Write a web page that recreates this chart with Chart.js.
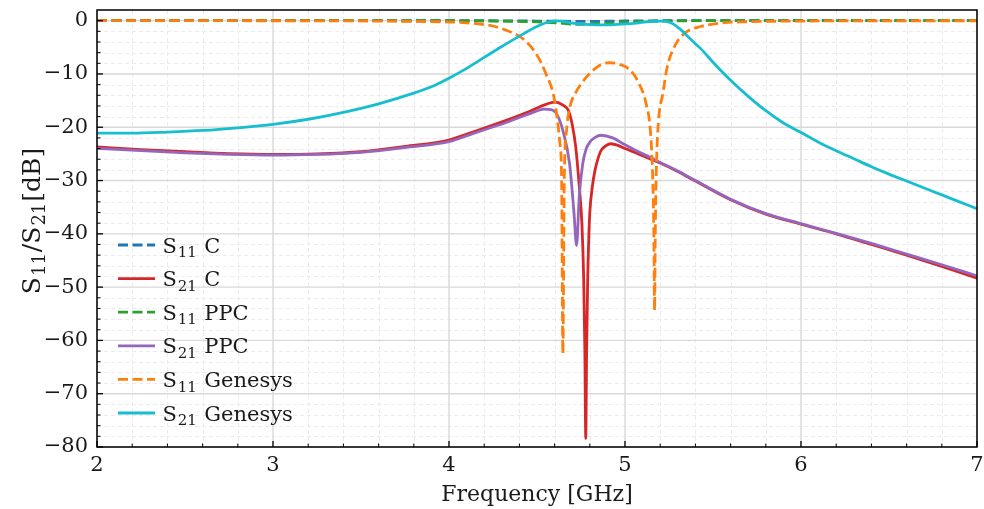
<!DOCTYPE html>
<html>
<head>
<meta charset="utf-8">
<script src="https://cdn.jsdelivr.net/npm/chart.js@4.4.1/dist/chart.umd.min.js"></script>
<style>
  html, body { margin: 0; padding: 0; background: #fff; }
</style>
</head>
<body>
<canvas id="sparamChart" width="984" height="509"></canvas>
<script>
// Donnees (frequence en GHz, niveau en dB)
const s11cFreq = [2.0, 4.0, 4.4, 4.6, 4.75, 4.9, 5.05, 5.3, 7.0];
const s11cDb   = [0, 0, -0.05, -0.1, -0.15, -0.1, -0.05, 0, 0];

const s21cFreq = [2.0, 2.25, 2.5, 2.75, 3.0, 3.25, 3.5, 3.75, 4.0, 4.135, 4.325, 4.46, 4.55, 4.60, 4.64,
                  4.68, 4.70, 4.72, 4.74, 4.755, 4.765, 4.772, 4.777, 4.782, 4.788, 4.795, 4.80, 4.815,
                  4.83, 4.85, 4.865, 4.89, 4.92, 4.96, 5.0, 5.07, 5.14, 5.2, 5.3, 5.4, 5.6, 5.8, 6.0, 6.2,
                  6.4, 6.6, 6.8, 7.0];
const s21cDb   = [-23.7, -24.2, -24.6, -24.95, -25.1, -25.0, -24.6, -23.6, -22.4, -20.9, -18.7, -17.0, -15.7, -15.3, -15.7,
                  -17.0, -19.5, -23.7, -31, -38, -48, -62, -78.4, -62, -48.7, -40, -36, -31,
                  -28, -25.5, -24.3, -23.5, -23.1, -23.4, -24.0, -24.9, -25.9, -26.7, -28.3, -30.1, -33.6, -36.3, -38.2, -40.0,
                  -42.0, -44.0, -46.1, -48.3];

const s11ppcFreq = [2.0, 4.0, 4.3, 4.53, 4.65, 4.73, 4.8, 4.89, 5.0, 5.1, 5.25, 5.45, 7.0];
const s11ppcDb   = [0, -0.02, -0.08, -0.26, -0.5, -0.7, -0.6, -0.45, -0.3, -0.15, -0.06, 0, 0];

const s21ppcFreq = [2.0, 2.25, 2.5, 2.75, 3.0, 3.25, 3.5, 3.75, 4.0, 4.135, 4.325, 4.46, 4.54, 4.58, 4.61,
                    4.647, 4.685, 4.71, 4.725, 4.74, 4.76, 4.78, 4.80, 4.83, 4.865, 4.93, 5.0, 5.07, 5.14,
                    5.2, 5.3, 5.4, 5.6, 5.8, 6.0, 6.2, 6.4, 6.6, 6.8, 7.0];
const s21ppcDb   = [-23.95, -24.4, -24.8, -25.1, -25.25, -25.1, -24.7, -23.8, -22.7, -21.2, -19.1, -17.45, -16.6, -16.7, -17.4,
                    -20.6, -26.8, -36, -42.2, -33, -26.8, -24.0, -22.8, -21.9, -21.5, -22.0, -23.3, -24.5, -25.6,
                    -26.6, -28.2, -30.0, -33.5, -36.2, -38.1, -39.9, -41.8, -43.8, -45.8, -47.9];

const s11genFreq = [2.0, 3.0, 3.6, 4.0, 4.1, 4.2, 4.25, 4.325, 4.42, 4.495, 4.55, 4.6, 4.63, 4.64, 4.647,
                    4.655, 4.668, 4.687, 4.72, 4.75, 4.8, 4.855, 4.91, 4.97, 5.03, 5.08, 5.12, 5.145, 5.158,
                    5.164, 5.168, 5.172, 5.178, 5.19, 5.215, 5.24, 5.29, 5.35, 5.43, 5.54, 5.7, 6.0, 6.5, 7.0];
const s11genDb   = [0, -0.02, -0.08, -0.25, -0.4, -0.75, -1.0, -1.8, -3.4, -6.2, -9.9, -15, -23, -30, -62.5,
                    -30, -20.6, -16.2, -13.5, -11.9, -9.9, -8.4, -7.9, -8.2, -9.3, -11.8, -15.6, -21, -30,
                    -40, -54.4, -40, -28, -19, -13.7, -8.7, -4.3, -2.1, -1.1, -0.45, -0.2, -0.08, -0.03, -0.02];

const s21genFreq = [2.0, 2.2, 2.4, 2.6, 2.8, 3.0, 3.2, 3.4, 3.6, 3.8, 3.9, 4.0, 4.1, 4.2, 4.3, 4.4, 4.5,
                    4.56, 4.62, 4.69, 4.8, 4.89, 4.98, 5.08, 5.15, 5.21, 5.26, 5.31, 5.37, 5.43, 5.5, 5.6,
                    5.7, 5.8, 5.9, 6.0, 6.1, 6.2, 6.3, 6.4, 6.5, 6.6, 6.7, 6.8, 6.9, 7.0];
const s21genDb   = [-21.1, -21.1, -20.9, -20.6, -20.1, -19.45, -18.5, -17.2, -15.6, -13.6, -12.4, -10.8, -8.95, -6.9, -4.85, -2.9, -1.1,
                    -0.3, -0.05, -0.4, -0.75, -0.8, -0.65, -0.4, -0.15, -0.1, -0.4, -1.5, -3.4, -5.25, -7.8, -11.2,
                    -14.2, -16.9, -19.2, -21.0, -22.8, -24.4, -25.9, -27.4, -28.8, -30.1, -31.4, -32.7, -34.0, -35.3];

const seriesLabels = ['S11 C', 'S21 C', 'S11 PPC', 'S21 PPC', 'S11 Genesys', 'S21 Genesys'];
const xTickValues = [2, 3, 4, 5, 6, 7];
const yTickValues = [-80, -70, -60, -50, -40, -30, -20, -10, 0];
const xTitle = 'Frequency [GHz]';
const yTitle = 'S11/S21[dB]';

const X_MIN = 2, X_MAX = 7, Y_MIN = -80, Y_MAX = 2;

function toPoints(freq, db) {
    return freq.map((f, i) => ({ x: f, y: db[i] }));
}

// Ecrit "S11 ..." avec les chiffres en indice
function drawSubText(ctx, text, x, y, size, align) {
    const parts = [];
    const re = /S(\d+)/g;
    let last = 0, m;
    while ((m = re.exec(text)) !== null) {
        if (m.index > last) parts.push({ t: text.slice(last, m.index), sub: false });
        parts.push({ t: 'S', sub: false });
        parts.push({ t: m[1], sub: true });
        last = m.index + m[0].length;
    }
    if (last < text.length) parts.push({ t: text.slice(last), sub: false });

    const mainFont = size + 'px "DejaVu Serif"';
    const subFont = Math.round(size * 0.7) + 'px "DejaVu Serif"';
    let total = 0;
    parts.forEach(p => {
        ctx.font = p.sub ? subFont : mainFont;
        p.w = ctx.measureText(p.t).width + (p.sub ? size * 0.08 : 0);
        total += p.w;
    });
    let cx = align === 'center' ? x - total / 2 : x;
    ctx.textAlign = 'left';
    ctx.textBaseline = 'alphabetic';
    parts.forEach(p => {
        ctx.font = p.sub ? subFont : mainFont;
        ctx.fillText(p.t, cx + (p.sub ? size * 0.04 : 0), p.sub ? y + size * 0.22 : y);
        cx += p.w;
    });
}

const frameGrid = {
    id: 'frameGrid',
    beforeDatasetsDraw(chart) {
        const { ctx, chartArea: a, scales: { x, y } } = chart;
        ctx.save();
        // grille mineure pointillee
        ctx.setLineDash([4, 3]);
        ctx.strokeStyle = '#ebebeb';
        ctx.lineWidth = 1;
        for (let i = 0; i <= 25; i++) {
            if (i % 5 === 0) continue;
            const px = Math.round(x.getPixelForValue(X_MIN + i * 0.2)) + 0.5;
            ctx.beginPath(); ctx.moveTo(px, a.top); ctx.lineTo(px, a.bottom); ctx.stroke();
        }
        for (let i = 0; i <= 40; i++) {
            if (i % 5 === 0) continue;
            const py = Math.round(y.getPixelForValue(Y_MIN + i * 2)) + 0.5;
            ctx.beginPath(); ctx.moveTo(a.left, py); ctx.lineTo(a.right, py); ctx.stroke();
        }
        // grille majeure
        ctx.setLineDash([]);
        ctx.strokeStyle = '#d9d9d9';
        ctx.lineWidth = 1.4;
        xTickValues.forEach(v => {
            const px = x.getPixelForValue(v);
            ctx.beginPath(); ctx.moveTo(px, a.top); ctx.lineTo(px, a.bottom); ctx.stroke();
        });
        yTickValues.forEach(v => {
            const py = y.getPixelForValue(v);
            ctx.beginPath(); ctx.moveTo(a.left, py); ctx.lineTo(a.right, py); ctx.stroke();
        });
        ctx.restore();
    },
    afterDatasetsDraw(chart) {
        const { ctx, chartArea: a, scales: { x, y } } = chart;
        ctx.save();
        // graduations vers l'interieur
        ctx.strokeStyle = '#000';
        for (let i = 0; i <= 25; i++) {
            const major = i % 5 === 0;
            const px = x.getPixelForValue(X_MIN + i * 0.2);
            ctx.lineWidth = major ? 1.3 : 1;
            ctx.beginPath(); ctx.moveTo(px, a.bottom); ctx.lineTo(px, a.bottom - (major ? 6 : 3.5)); ctx.stroke();
        }
        for (let i = 0; i <= 40; i++) {
            const major = i % 5 === 0;
            const py = y.getPixelForValue(Y_MIN + i * 2);
            ctx.lineWidth = major ? 1.3 : 1;
            ctx.beginPath(); ctx.moveTo(a.left, py); ctx.lineTo(a.left + (major ? 6 : 3.5), py); ctx.stroke();
        }
        // cadre
        ctx.lineWidth = 1.5;
        ctx.strokeRect(a.left, a.top, a.right - a.left, a.bottom - a.top);

        // legende
        chart.data.datasets.forEach((ds, i) => {
            const ly = 245 + i * 33.6;
            ctx.strokeStyle = ds.borderColor;
            ctx.lineWidth = ds.borderWidth;
            ctx.setLineDash(ds.borderDash || []);
            ctx.beginPath(); ctx.moveTo(118, ly); ctx.lineTo(155, ly); ctx.stroke();
            ctx.setLineDash([]);
            ctx.fillStyle = '#1a1a1a';
            drawSubText(ctx, ds.label, 162.5, ly + 7.5, 21, 'left');
        });

        // titre de l'axe y
        ctx.translate(31, 221);
        ctx.rotate(-Math.PI / 2);
        ctx.fillStyle = '#1a1a1a';
        drawSubText(ctx, yTitle, 0, 8.5, 25, 'center');
        ctx.restore();
    }
};

const colors = ['#1f77b4', '#d62728', '#2ca02c', '#9467bd', '#ff7f0e', '#17becf'];
const dashed = [10, 4.5];

const chart = new Chart(document.getElementById('sparamChart'), {
    type: 'line',
    data: {
        datasets: [
            { label: seriesLabels[0], data: toPoints(s11cFreq, s11cDb), borderColor: colors[0], borderWidth: 2.8, borderDash: dashed, order: 6 },
            { label: seriesLabels[1], data: toPoints(s21cFreq, s21cDb), borderColor: colors[1], borderWidth: 2.8, order: 5 },
            { label: seriesLabels[2], data: toPoints(s11ppcFreq, s11ppcDb), borderColor: colors[2], borderWidth: 2.8, borderDash: dashed, order: 4 },
            { label: seriesLabels[3], data: toPoints(s21ppcFreq, s21ppcDb), borderColor: colors[3], borderWidth: 2.8, order: 3 },
            { label: seriesLabels[4], data: toPoints(s11genFreq, s11genDb), borderColor: colors[4], borderWidth: 2.8, borderDash: dashed, order: 2 },
            { label: seriesLabels[5], data: toPoints(s21genFreq, s21genDb), borderColor: colors[5], borderWidth: 2.8, order: 1 }
        ]
    },
    options: {
        responsive: false,
        devicePixelRatio: 1,
        animation: false,
        layout: { padding: { left: 0, right: 7, top: 10, bottom: 0 } },
        elements: {
            point: { radius: 0 },
            line: { cubicInterpolationMode: 'monotone', fill: false }
        },
        plugins: {
            legend: { display: false },
            tooltip: { enabled: false }
        },
        scales: {
            x: {
                type: 'linear',
                min: X_MIN,
                max: X_MAX,
                grid: { display: false, drawTicks: false },
                border: { display: false },
                ticks: {
                    padding: 6,
                    maxRotation: 0,
                    color: '#1a1a1a',
                    font: { family: 'DejaVu Serif', size: 21 }
                },
                afterBuildTicks: s => { s.ticks = xTickValues.map(v => ({ value: v })); },
                afterFit: s => { s.height = 62; s.paddingLeft = 0; s.paddingRight = 0; },
                title: {
                    display: true,
                    text: xTitle,
                    color: '#1a1a1a',
                    font: { family: 'DejaVu Serif', size: 22 },
                    padding: { top: 0, bottom: 1 }
                }
            },
            y: {
                type: 'linear',
                min: Y_MIN,
                max: Y_MAX,
                grid: { display: false, drawTicks: false },
                border: { display: false },
                ticks: {
                    padding: 9,
                    color: '#1a1a1a',
                    font: { family: 'DejaVu Serif', size: 21 },
                    callback: v => (v < 0 ? '\u2212' + Math.abs(v) : String(v))
                },
                afterBuildTicks: s => { s.ticks = yTickValues.map(v => ({ value: v })); },
                afterFit: s => { s.width = 97; s.paddingTop = 0; s.paddingBottom = 0; }
            }
        }
    },
    plugins: [frameGrid]
});
</script>
</body>
</html>
